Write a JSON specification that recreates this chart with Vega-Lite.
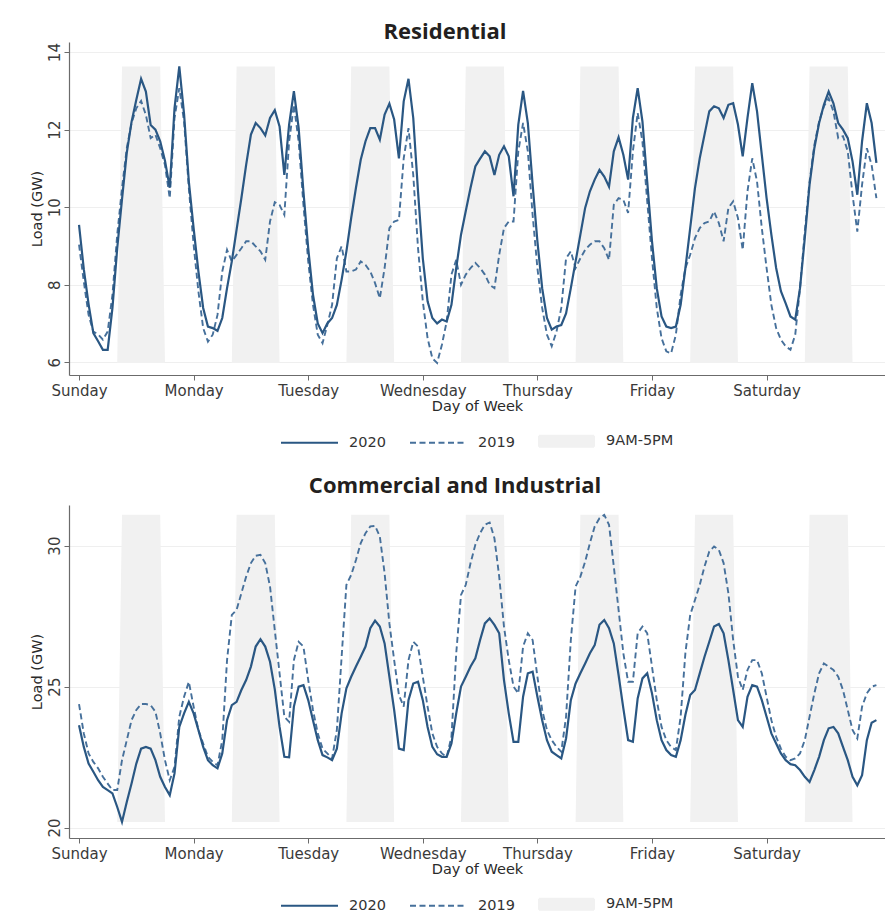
{
"$schema": "https://vega.github.io/schema/vega-lite/v6.json",
"padding": {"left": 29, "top": 21, "right": 0, "bottom": 0},
"background": "white",
"datasets": {
"res": [
{"h":0,"v2020":9.54,"v2019":9.03},{"h":1,"v2020":8.4,"v2019":8.08},{"h":2,"v2020":7.5,"v2019":7.22},{"h":3,"v2020":6.75,"v2019":6.79},{"h":4,"v2020":6.54,"v2019":6.72},{"h":5,"v2020":6.32,"v2019":6.58},{"h":6,"v2020":6.32,"v2019":6.79},{"h":7,"v2020":7.4,"v2019":7.74},{"h":8,"v2020":8.94,"v2019":9.29},{"h":9,"v2020":10.2,"v2019":10.49},{"h":10,"v2020":11.4,"v2019":11.52},{"h":11,"v2020":12.2,"v2019":12.17},{"h":12,"v2020":12.77,"v2019":12.55},{"h":13,"v2020":13.31,"v2019":12.74},{"h":14,"v2020":12.98,"v2019":12.38},{"h":15,"v2020":12.12,"v2019":11.78},{"h":16,"v2020":12.0,"v2019":11.87},{"h":17,"v2020":11.7,"v2019":11.52},{"h":18,"v2020":11.2,"v2019":11.09},{"h":19,"v2020":10.5,"v2019":10.23},{"h":20,"v2020":12.55,"v2019":12.3},{"h":21,"v2020":13.63,"v2019":13.07},{"h":22,"v2020":12.4,"v2019":12.21},{"h":23,"v2020":10.66,"v2019":10.49},
{"h":24,"v2020":9.46,"v2019":9.03},{"h":25,"v2020":8.34,"v2019":7.83},{"h":26,"v2020":7.4,"v2019":6.88},{"h":27,"v2020":6.92,"v2019":6.53},{"h":28,"v2020":6.88,"v2019":6.71},{"h":29,"v2020":6.81,"v2019":7.22},{"h":30,"v2020":7.14,"v2019":8.34},{"h":31,"v2020":7.91,"v2019":8.9},{"h":32,"v2020":8.6,"v2019":8.6},{"h":33,"v2020":9.42,"v2019":8.77},{"h":34,"v2020":10.23,"v2019":8.94},{"h":35,"v2020":11.09,"v2019":9.12},{"h":36,"v2020":11.87,"v2019":9.12},{"h":37,"v2020":12.17,"v2019":8.99},{"h":38,"v2020":12.04,"v2019":8.86},{"h":39,"v2020":11.85,"v2019":8.64},{"h":40,"v2020":12.3,"v2019":9.63},{"h":41,"v2020":12.5,"v2019":10.13},{"h":42,"v2020":12.08,"v2019":10.06},{"h":43,"v2020":10.83,"v2019":9.8},{"h":44,"v2020":12.13,"v2019":11.69},{"h":45,"v2020":12.99,"v2019":12.64},{"h":46,"v2020":12.04,"v2019":11.69},{"h":47,"v2020":10.4,"v2019":10.06},
{"h":48,"v2020":8.94,"v2019":8.6},{"h":49,"v2020":7.74,"v2019":7.48},{"h":50,"v2020":7.0,"v2019":6.71},{"h":51,"v2020":6.75,"v2019":6.49},{"h":52,"v2020":7.0,"v2019":6.96},{"h":53,"v2020":7.14,"v2019":7.48},{"h":54,"v2020":7.48,"v2019":8.68},{"h":55,"v2020":8.13,"v2019":8.99},{"h":56,"v2020":8.86,"v2019":8.34},{"h":57,"v2020":9.72,"v2019":8.34},{"h":58,"v2020":10.5,"v2019":8.39},{"h":59,"v2020":11.22,"v2019":8.6},{"h":60,"v2020":11.7,"v2019":8.51},{"h":61,"v2020":12.04,"v2019":8.34},{"h":62,"v2020":12.04,"v2019":8.04},{"h":63,"v2020":11.74,"v2019":7.65},{"h":64,"v2020":12.39,"v2019":8.43},{"h":65,"v2020":12.67,"v2019":9.46},{"h":66,"v2020":12.26,"v2019":9.63},{"h":67,"v2020":11.26,"v2019":9.67},{"h":68,"v2020":12.73,"v2019":11.26},{"h":69,"v2020":13.31,"v2019":12.04},{"h":70,"v2020":12.3,"v2019":10.83},{"h":71,"v2020":10.4,"v2019":8.94},
{"h":72,"v2020":8.68,"v2019":7.57},{"h":73,"v2020":7.57,"v2019":6.62},{"h":74,"v2020":7.14,"v2019":6.1},{"h":75,"v2020":7.0,"v2019":5.98},{"h":76,"v2020":7.1,"v2019":6.45},{"h":77,"v2020":7.05,"v2019":7.05},{"h":78,"v2020":7.48,"v2019":8.26},{"h":79,"v2020":8.43,"v2019":8.64},{"h":80,"v2020":9.29,"v2019":8.0},{"h":81,"v2020":9.9,"v2019":8.26},{"h":82,"v2020":10.5,"v2019":8.43},{"h":83,"v2020":11.05,"v2019":8.56},{"h":84,"v2020":11.25,"v2019":8.43},{"h":85,"v2020":11.44,"v2019":8.26},{"h":86,"v2020":11.31,"v2019":8.0},{"h":87,"v2020":10.83,"v2019":7.91},{"h":88,"v2020":11.35,"v2019":8.77},{"h":89,"v2020":11.57,"v2019":9.46},{"h":90,"v2020":11.31,"v2019":9.63},{"h":91,"v2020":10.28,"v2019":9.63},{"h":92,"v2020":12.13,"v2019":11.44},{"h":93,"v2020":13.0,"v2019":12.17},{"h":94,"v2020":12.17,"v2019":11.44},{"h":95,"v2020":10.58,"v2019":9.8},
{"h":96,"v2020":9.12,"v2019":8.43},{"h":97,"v2020":7.91,"v2019":7.4},{"h":98,"v2020":7.14,"v2019":6.71},{"h":99,"v2020":6.84,"v2019":6.41},{"h":100,"v2020":6.92,"v2019":6.79},{"h":101,"v2020":6.96,"v2019":7.4},{"h":102,"v2020":7.26,"v2019":8.68},{"h":103,"v2020":7.91,"v2019":8.86},{"h":104,"v2020":8.6,"v2019":8.43},{"h":105,"v2020":9.29,"v2019":8.68},{"h":106,"v2020":9.98,"v2019":8.9},{"h":107,"v2020":10.41,"v2019":9.03},{"h":108,"v2020":10.71,"v2019":9.12},{"h":109,"v2020":10.96,"v2019":9.12},{"h":110,"v2020":10.79,"v2019":8.94},{"h":111,"v2020":10.53,"v2019":8.64},{"h":112,"v2020":11.44,"v2019":10.06},{"h":113,"v2020":11.8,"v2019":10.23},{"h":114,"v2020":11.35,"v2019":10.19},{"h":115,"v2020":10.71,"v2019":9.85},{"h":116,"v2020":12.3,"v2019":11.44},{"h":117,"v2020":13.07,"v2019":12.43},{"h":118,"v2020":12.21,"v2019":11.69},{"h":119,"v2020":10.66,"v2019":10.15},
{"h":120,"v2020":9.12,"v2019":8.68},{"h":121,"v2020":7.91,"v2019":7.4},{"h":122,"v2020":7.18,"v2019":6.62},{"h":123,"v2020":6.92,"v2019":6.28},{"h":124,"v2020":6.88,"v2019":6.23},{"h":125,"v2020":6.92,"v2019":6.71},{"h":126,"v2020":7.48,"v2019":7.74},{"h":127,"v2020":8.43,"v2019":8.43},{"h":128,"v2020":9.46,"v2019":8.77},{"h":129,"v2020":10.49,"v2019":9.2},{"h":130,"v2020":11.26,"v2019":9.46},{"h":131,"v2020":11.87,"v2019":9.59},{"h":132,"v2020":12.47,"v2019":9.63},{"h":133,"v2020":12.6,"v2019":9.89},{"h":134,"v2020":12.55,"v2019":9.59},{"h":135,"v2020":12.3,"v2019":9.12},{"h":136,"v2020":12.64,"v2019":9.98},{"h":137,"v2020":12.68,"v2019":10.15},{"h":138,"v2020":12.13,"v2019":9.72},{"h":139,"v2020":11.31,"v2019":8.9},{"h":140,"v2020":12.3,"v2019":10.41},{"h":141,"v2020":13.2,"v2019":11.26},{"h":142,"v2020":12.47,"v2019":10.66},{"h":143,"v2020":11.35,"v2019":9.46},
{"h":144,"v2020":10.23,"v2019":8.43},{"h":145,"v2020":9.29,"v2019":7.48},{"h":146,"v2020":8.43,"v2019":6.88},{"h":147,"v2020":7.83,"v2019":6.58},{"h":148,"v2020":7.52,"v2019":6.41},{"h":149,"v2020":7.18,"v2019":6.32},{"h":150,"v2020":7.1,"v2019":6.71},{"h":151,"v2020":7.91,"v2019":7.91},{"h":152,"v2020":9.2,"v2019":9.37},{"h":153,"v2020":10.58,"v2019":10.66},{"h":154,"v2020":11.52,"v2019":11.6},{"h":155,"v2020":12.17,"v2019":12.21},{"h":156,"v2020":12.64,"v2019":12.6},{"h":157,"v2020":12.98,"v2019":12.81},{"h":158,"v2020":12.68,"v2019":12.47},{"h":159,"v2020":12.17,"v2019":11.78},{"h":160,"v2020":12.0,"v2019":11.83},{"h":161,"v2020":11.78,"v2019":11.44},{"h":162,"v2020":11.18,"v2019":10.32},{"h":163,"v2020":10.32,"v2019":9.37},{"h":164,"v2020":11.7,"v2019":10.58},{"h":165,"v2020":12.68,"v2019":11.52},{"h":166,"v2020":12.17,"v2019":11.09},{"h":167,"v2020":11.14,"v2019":10.23}
],
"ci": [
{"h":0,"v2020":23.63,"v2019":24.38},{"h":1,"v2020":22.86,"v2019":23.34},{"h":2,"v2020":22.27,"v2019":22.63},{"h":3,"v2020":21.98,"v2019":22.33},{"h":4,"v2020":21.68,"v2019":22.1},{"h":5,"v2020":21.44,"v2019":21.8},{"h":6,"v2020":21.33,"v2019":21.56},{"h":7,"v2020":21.21,"v2019":21.33},{"h":8,"v2020":20.73,"v2019":21.33},{"h":9,"v2020":20.2,"v2019":22.39},{"h":10,"v2020":20.91,"v2019":23.1},{"h":11,"v2020":21.56,"v2019":23.81},{"h":12,"v2020":22.27,"v2019":24.17},{"h":13,"v2020":22.8,"v2019":24.38},{"h":14,"v2020":22.86,"v2019":24.38},{"h":15,"v2020":22.8,"v2019":24.34},{"h":16,"v2020":22.39,"v2019":24.11},{"h":17,"v2020":21.8,"v2019":23.34},{"h":18,"v2020":21.44,"v2019":22.39},{"h":19,"v2020":21.15,"v2019":21.68},{"h":20,"v2020":21.92,"v2019":22.15},{"h":21,"v2020":23.57,"v2019":23.93},{"h":22,"v2020":24.05,"v2019":24.64},{"h":23,"v2020":24.46,"v2019":25.17},
{"h":24,"v2020":24.05,"v2019":24.29},{"h":25,"v2020":23.46,"v2019":23.46},{"h":26,"v2020":22.86,"v2019":22.98},{"h":27,"v2020":22.39,"v2019":22.51},{"h":28,"v2020":22.21,"v2019":22.33},{"h":29,"v2020":22.1,"v2019":22.21},{"h":30,"v2020":22.63,"v2019":23.1},{"h":31,"v2020":23.81,"v2019":25.94},{"h":32,"v2020":24.34,"v2019":27.54},{"h":33,"v2020":24.46,"v2019":27.72},{"h":34,"v2020":24.88,"v2019":28.31},{"h":35,"v2020":25.23,"v2019":28.9},{"h":36,"v2020":25.71,"v2019":29.38},{"h":37,"v2020":26.42,"v2019":29.64},{"h":38,"v2020":26.68,"v2019":29.67},{"h":39,"v2020":26.42,"v2019":29.38},{"h":40,"v2020":25.88,"v2019":28.55},{"h":41,"v2020":24.9,"v2019":27.0},{"h":42,"v2020":23.57,"v2019":25.47},{"h":43,"v2020":22.51,"v2019":23.93},{"h":44,"v2020":22.49,"v2019":23.75},{"h":45,"v2020":24.29,"v2019":25.94},{"h":46,"v2020":25.0,"v2019":26.59},{"h":47,"v2020":25.05,"v2019":26.42},
{"h":48,"v2020":24.52,"v2019":25.23},{"h":49,"v2020":23.81,"v2019":24.17},{"h":50,"v2020":23.1,"v2019":23.34},{"h":51,"v2020":22.57,"v2019":22.8},{"h":52,"v2020":22.49,"v2019":22.63},{"h":53,"v2020":22.39,"v2019":22.45},{"h":54,"v2020":22.8,"v2019":23.46},{"h":55,"v2020":24.05,"v2019":26.06},{"h":56,"v2020":24.94,"v2019":28.61},{"h":57,"v2020":25.35,"v2019":28.96},{"h":58,"v2020":25.71,"v2019":29.49},{"h":59,"v2020":26.06,"v2019":30.09},{"h":60,"v2020":26.42,"v2019":30.44},{"h":61,"v2020":27.07,"v2019":30.68},{"h":62,"v2020":27.34,"v2019":30.7},{"h":63,"v2020":27.13,"v2019":30.32},{"h":64,"v2020":26.53,"v2019":29.02},{"h":65,"v2020":25.35,"v2019":27.24},{"h":66,"v2020":24.17,"v2019":25.94},{"h":67,"v2020":22.8,"v2019":24.7},{"h":68,"v2020":22.75,"v2019":24.29},{"h":69,"v2020":24.52,"v2019":25.94},{"h":70,"v2020":25.11,"v2019":26.59},{"h":71,"v2020":25.17,"v2019":26.42},
{"h":72,"v2020":24.52,"v2019":25.35},{"h":73,"v2020":23.57,"v2019":24.29},{"h":74,"v2020":22.86,"v2019":23.34},{"h":75,"v2020":22.6,"v2019":22.86},{"h":76,"v2020":22.51,"v2019":22.63},{"h":77,"v2020":22.51,"v2019":22.51},{"h":78,"v2020":22.98,"v2019":23.22},{"h":79,"v2020":24.05,"v2019":26.18},{"h":80,"v2020":25.0,"v2019":28.25},{"h":81,"v2020":25.35,"v2019":28.61},{"h":82,"v2020":25.71,"v2019":29.38},{"h":83,"v2020":26.0,"v2019":30.03},{"h":84,"v2020":26.65,"v2019":30.44},{"h":85,"v2020":27.24,"v2019":30.74},{"h":86,"v2020":27.42,"v2019":30.82},{"h":87,"v2020":27.19,"v2019":30.26},{"h":88,"v2020":26.89,"v2019":28.9},{"h":89,"v2020":25.23,"v2019":27.13},{"h":90,"v2020":24.05,"v2019":25.94},{"h":91,"v2020":23.04,"v2019":25.0},{"h":92,"v2020":23.04,"v2019":24.76},{"h":93,"v2020":24.64,"v2019":26.42},{"h":94,"v2020":25.47,"v2019":26.89},{"h":95,"v2020":25.53,"v2019":26.65},
{"h":96,"v2020":24.64,"v2019":25.35},{"h":97,"v2020":23.81,"v2019":24.17},{"h":98,"v2020":23.1,"v2019":23.46},{"h":99,"v2020":22.69,"v2019":23.1},{"h":100,"v2020":22.57,"v2019":22.86},{"h":101,"v2020":22.45,"v2019":22.69},{"h":102,"v2020":23.16,"v2019":23.93},{"h":103,"v2020":24.52,"v2019":26.65},{"h":104,"v2020":25.11,"v2019":28.55},{"h":105,"v2020":25.47,"v2019":28.9},{"h":106,"v2020":25.82,"v2019":29.43},{"h":107,"v2020":26.18,"v2019":30.09},{"h":108,"v2020":26.47,"v2019":30.68},{"h":109,"v2020":27.19,"v2019":30.97},{"h":110,"v2020":27.36,"v2019":31.09},{"h":111,"v2020":27.07,"v2019":30.74},{"h":112,"v2020":26.53,"v2019":29.26},{"h":113,"v2020":25.41,"v2019":27.72},{"h":114,"v2020":24.23,"v2019":26.18},{"h":115,"v2020":23.1,"v2019":25.17},{"h":116,"v2020":23.04,"v2019":25.17},{"h":117,"v2020":24.58,"v2019":26.89},{"h":118,"v2020":25.29,"v2019":27.13},{"h":119,"v2020":25.47,"v2019":26.89},
{"h":120,"v2020":24.76,"v2019":25.71},{"h":121,"v2020":23.81,"v2019":24.52},{"h":122,"v2020":23.1,"v2019":23.57},{"h":123,"v2020":22.75,"v2019":23.1},{"h":124,"v2020":22.57,"v2019":22.86},{"h":125,"v2020":22.51,"v2019":22.75},{"h":126,"v2020":23.1,"v2019":23.93},{"h":127,"v2020":24.0,"v2019":26.2},{"h":128,"v2020":24.7,"v2019":27.54},{"h":129,"v2020":24.88,"v2019":28.07},{"h":130,"v2020":25.47,"v2019":28.61},{"h":131,"v2020":26.06,"v2019":29.26},{"h":132,"v2020":26.59,"v2019":29.79},{"h":133,"v2020":27.13,"v2019":29.97},{"h":134,"v2020":27.22,"v2019":29.85},{"h":135,"v2020":26.89,"v2019":29.38},{"h":136,"v2020":25.94,"v2019":28.31},{"h":137,"v2020":24.88,"v2019":26.65},{"h":138,"v2020":23.81,"v2019":25.35},{"h":139,"v2020":23.57,"v2019":24.88},{"h":140,"v2020":24.64,"v2019":25.59},{"h":141,"v2020":25.05,"v2019":25.94},{"h":142,"v2020":25.0,"v2019":25.94},{"h":143,"v2020":24.52,"v2019":25.47},
{"h":144,"v2020":23.93,"v2019":24.64},{"h":145,"v2020":23.34,"v2019":23.81},{"h":146,"v2020":22.98,"v2019":23.22},{"h":147,"v2020":22.63,"v2019":22.8},{"h":148,"v2020":22.39,"v2019":22.51},{"h":149,"v2020":22.25,"v2019":22.39},{"h":150,"v2020":22.21,"v2019":22.45},{"h":151,"v2020":22.04,"v2019":22.63},{"h":152,"v2020":21.8,"v2019":23.1},{"h":153,"v2020":21.62,"v2019":23.93},{"h":154,"v2020":22.04,"v2019":24.76},{"h":155,"v2020":22.51,"v2019":25.47},{"h":156,"v2020":23.1,"v2019":25.82},{"h":157,"v2020":23.52,"v2019":25.71},{"h":158,"v2020":23.57,"v2019":25.59},{"h":159,"v2020":23.34,"v2019":25.35},{"h":160,"v2020":22.86,"v2019":24.88},{"h":161,"v2020":22.39,"v2019":24.17},{"h":162,"v2020":21.8,"v2019":23.46},{"h":163,"v2020":21.5,"v2019":23.16},{"h":164,"v2020":21.86,"v2019":24.29},{"h":165,"v2020":23.1,"v2019":24.76},{"h":166,"v2020":23.72,"v2019":25.0},{"h":167,"v2020":23.81,"v2019":25.05}
],
"shadeR": [
{"day":0,"h":8,"lo":5.98,"hi":5.98},{"day":0,"h":9,"lo":5.98,"hi":13.63},{"day":0,"h":17,"lo":5.98,"hi":13.63},{"day":0,"h":18,"lo":5.98,"hi":5.98},
{"day":1,"h":32,"lo":5.98,"hi":5.98},{"day":1,"h":33,"lo":5.98,"hi":13.63},{"day":1,"h":41,"lo":5.98,"hi":13.63},{"day":1,"h":42,"lo":5.98,"hi":5.98},
{"day":2,"h":56,"lo":5.98,"hi":5.98},{"day":2,"h":57,"lo":5.98,"hi":13.63},{"day":2,"h":65,"lo":5.98,"hi":13.63},{"day":2,"h":66,"lo":5.98,"hi":5.98},
{"day":3,"h":80,"lo":5.98,"hi":5.98},{"day":3,"h":81,"lo":5.98,"hi":13.63},{"day":3,"h":89,"lo":5.98,"hi":13.63},{"day":3,"h":90,"lo":5.98,"hi":5.98},
{"day":4,"h":104,"lo":5.98,"hi":5.98},{"day":4,"h":105,"lo":5.98,"hi":13.63},{"day":4,"h":113,"lo":5.98,"hi":13.63},{"day":4,"h":114,"lo":5.98,"hi":5.98},
{"day":5,"h":128,"lo":5.98,"hi":5.98},{"day":5,"h":129,"lo":5.98,"hi":13.63},{"day":5,"h":137,"lo":5.98,"hi":13.63},{"day":5,"h":138,"lo":5.98,"hi":5.98},
{"day":6,"h":152,"lo":5.98,"hi":5.98},{"day":6,"h":153,"lo":5.98,"hi":13.63},{"day":6,"h":161,"lo":5.98,"hi":13.63},{"day":6,"h":162,"lo":5.98,"hi":5.98}
],
"shadeC": [
{"day":0,"h":8,"lo":20.2,"hi":20.2},{"day":0,"h":9,"lo":20.2,"hi":31.09},{"day":0,"h":17,"lo":20.2,"hi":31.09},{"day":0,"h":18,"lo":20.2,"hi":20.2},
{"day":1,"h":32,"lo":20.2,"hi":20.2},{"day":1,"h":33,"lo":20.2,"hi":31.09},{"day":1,"h":41,"lo":20.2,"hi":31.09},{"day":1,"h":42,"lo":20.2,"hi":20.2},
{"day":2,"h":56,"lo":20.2,"hi":20.2},{"day":2,"h":57,"lo":20.2,"hi":31.09},{"day":2,"h":65,"lo":20.2,"hi":31.09},{"day":2,"h":66,"lo":20.2,"hi":20.2},
{"day":3,"h":80,"lo":20.2,"hi":20.2},{"day":3,"h":81,"lo":20.2,"hi":31.09},{"day":3,"h":89,"lo":20.2,"hi":31.09},{"day":3,"h":90,"lo":20.2,"hi":20.2},
{"day":4,"h":104,"lo":20.2,"hi":20.2},{"day":4,"h":105,"lo":20.2,"hi":31.09},{"day":4,"h":113,"lo":20.2,"hi":31.09},{"day":4,"h":114,"lo":20.2,"hi":20.2},
{"day":5,"h":128,"lo":20.2,"hi":20.2},{"day":5,"h":129,"lo":20.2,"hi":31.09},{"day":5,"h":137,"lo":20.2,"hi":31.09},{"day":5,"h":138,"lo":20.2,"hi":20.2},
{"day":6,"h":152,"lo":20.2,"hi":20.2},{"day":6,"h":153,"lo":20.2,"hi":31.09},{"day":6,"h":161,"lo":20.2,"hi":31.09},{"day":6,"h":162,"lo":20.2,"hi":20.2}
]
},
"spacing": 24,
"resolve": {"scale": {"color": "independent", "x": "independent", "y": "independent"}, "legend": {"color": "independent"}},
"vconcat": [
{
"title": {"text": "Residential", "offset": -2, "dx": -32},
"width": 816, "height": 333,
"layer": [
{"data": {"name": "shadeR"}, "mark": {"type": "area", "line": false, "opacity": 1},
"encoding": {
"x": {"field": "h", "type": "quantitative", "scale": {"domain": [-2.1, 168.8], "nice": false, "zero": false}, "axis": {"values": [0,24,48,72,96,120,144], "labelExpr": "['Sunday','Monday','Tuesday','Wednesday','Thursday','Friday','Saturday'][round(datum.value/24)]", "grid": false, "labelPadding": 3, "titlePadding": 1, "labelFlush": false, "labelOverlap": false}, "title": "Day of Week"},
"y": {"field": "lo", "type": "quantitative", "stack": null, "scale": {"domain": [5.67, 14.26], "nice": false, "zero": false}, "axis": {"values": [6,8,10,12,14], "labelAngle": -90, "labelAlign": "center", "labelBaseline": "bottom", "grid": true, "gridColor": "#efefef", "labelPadding": 2, "titlePadding": 3}, "title": "Load (GW)"},
"y2": {"field": "hi"},
"detail": {"field": "day", "type": "nominal"},
"color": {"datum": "9AM-5PM", "scale": {"domain": ["2020","2019","9AM-5PM"], "range": ["#2a5783","#46709b","#f1f1f1"]},
"legend": {"title": null, "orient": "bottom", "direction": "horizontal", "offset": 19, "symbolType": {"expr": "datum.value === '9AM-5PM' ? 'M-1,-0.6875H5.875V0.6875H-1Z' : 'M-1.125,0H6'"}, "symbolSize": 256, "symbolStrokeWidth": 2, "symbolFillColor": {"expr": "datum.value === '9AM-5PM' ? '#f1f1f1' : 'transparent'"}, "symbolDash": {"expr": "datum.value === '2019' ? [6, 3.5] : [1, 0]"}, "labelFont": "DejaVu Sans", "labelFontSize": 14.5, "labelColor": "#333333", "labelOffset": 50, "columnPadding": 20}}
}},
{"data": {"name": "res"}, "mark": {"type": "line", "strokeWidth": 1.9, "strokeDash": [6, 3.5]},
"encoding": {"x": {"field": "h", "type": "quantitative"}, "y": {"field": "v2019", "type": "quantitative", "title": "Load (GW)"}, "color": {"datum": "2019"}}},
{"data": {"name": "res"}, "mark": {"type": "line", "strokeWidth": 2.2},
"encoding": {"x": {"field": "h", "type": "quantitative"}, "y": {"field": "v2020", "type": "quantitative", "title": "Load (GW)"}, "color": {"datum": "2020"}}}
]
},
{
"title": {"text": "Commercial and Industrial", "offset": 7, "dx": -22},
"width": 816, "height": 333,
"layer": [
{"data": {"name": "shadeC"}, "mark": {"type": "area", "line": false, "opacity": 1},
"encoding": {
"x": {"field": "h", "type": "quantitative", "scale": {"domain": [-2.1, 168.8], "nice": false, "zero": false}, "axis": {"values": [0,24,48,72,96,120,144], "labelExpr": "['Sunday','Monday','Tuesday','Wednesday','Thursday','Friday','Saturday'][round(datum.value/24)]", "grid": false, "labelPadding": 3, "titlePadding": 1, "labelFlush": false, "labelOverlap": false}, "title": "Day of Week"},
"y": {"field": "lo", "type": "quantitative", "stack": null, "scale": {"domain": [19.63, 31.44], "nice": false, "zero": false}, "axis": {"values": [20,25,30], "labelAngle": -90, "labelAlign": "center", "labelBaseline": "bottom", "grid": true, "gridColor": "#efefef", "labelPadding": 2, "titlePadding": 3}, "title": "Load (GW)"},
"y2": {"field": "hi"},
"detail": {"field": "day", "type": "nominal"},
"color": {"datum": "9AM-5PM", "scale": {"domain": ["2020","2019","9AM-5PM"], "range": ["#2a5783","#46709b","#f1f1f1"]},
"legend": {"title": null, "orient": "bottom", "direction": "horizontal", "offset": 19, "symbolType": {"expr": "datum.value === '9AM-5PM' ? 'M-1,-0.6875H5.875V0.6875H-1Z' : 'M-1.125,0H6'"}, "symbolSize": 256, "symbolStrokeWidth": 2, "symbolFillColor": {"expr": "datum.value === '9AM-5PM' ? '#f1f1f1' : 'transparent'"}, "symbolDash": {"expr": "datum.value === '2019' ? [6, 3.5] : [1, 0]"}, "labelFont": "DejaVu Sans", "labelFontSize": 14.5, "labelColor": "#333333", "labelOffset": 50, "columnPadding": 20}}
}},
{"data": {"name": "ci"}, "mark": {"type": "line", "strokeWidth": 1.9, "strokeDash": [6, 3.5]},
"encoding": {"x": {"field": "h", "type": "quantitative"}, "y": {"field": "v2019", "type": "quantitative", "title": "Load (GW)"}, "color": {"datum": "2019"}}},
{"data": {"name": "ci"}, "mark": {"type": "line", "strokeWidth": 2.2},
"encoding": {"x": {"field": "h", "type": "quantitative"}, "y": {"field": "v2020", "type": "quantitative", "title": "Load (GW)"}, "color": {"datum": "2020"}}}
]
}
],
"config": {
"font": "DejaVu Sans",
"view": {"stroke": null},
"axis": {"labelFont": "DejaVu Sans", "titleFont": "DejaVu Sans", "labelFontSize": 15, "titleFontSize": 14.5, "titleFontWeight": "normal", "labelColor": "#3a3a3a", "titleColor": "#2a2a2a", "domainColor": "#6b6b6b", "tickColor": "#6b6b6b", "tickSize": 5, "domainWidth": 1.2},
"title": {"font": "Open Sans", "fontSize": 22, "fontWeight": "bold", "color": "#231f20", "anchor": "middle"},
"legend": {"layout": {"bottom": {"anchor": "middle"}}}
}
}
